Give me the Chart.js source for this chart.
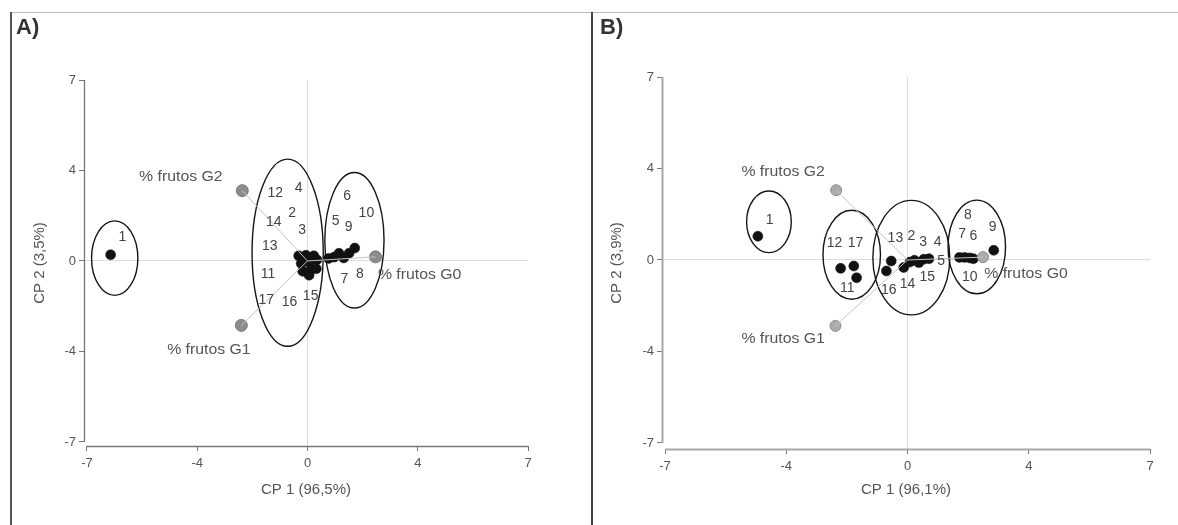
<!DOCTYPE html>
<html>
<head>
<meta charset="utf-8">
<script src="https://cdn.jsdelivr.net/npm/chart.js@4.4.1/dist/chart.umd.min.js"></script>
<style>
  html, body { margin: 0; padding: 0; background: #fff; }
  body { width: 1178px; height: 525px; position: relative; overflow: hidden; font-family: Arial, "Liberation Sans", sans-serif; }
  canvas { position: absolute; top: 0; }
  #cA { left: 0; }
  #cB { left: 590px; }
  .frame { position: absolute; z-index: 5; pointer-events: none; }
  .panel { position: absolute; z-index: 6; font: bold 22px Arial, "Liberation Sans", sans-serif; color: #333; }
</style>
</head>
<body>
<canvas id="cA" width="590" height="525"></canvas>
<canvas id="cB" width="588" height="525"></canvas>
<div class="frame" style="left:10px;top:12px;width:1168px;height:1px;background:#bdbdbd"></div>
<div class="frame" style="left:10px;top:12px;width:2px;height:513px;background:#555"></div>
<div class="frame" style="left:591px;top:12px;width:2px;height:513px;background:#444"></div>
<div class="panel" style="left:16px;top:14px">A)</div>
<div class="panel" style="left:600px;top:14px">B)</div>
<script>
// ---------- DATA ----------
const tickValues = [-7, -3.5, 0, 3.5, 7];
const tickLabels = ['-7', '-4', '0', '4', '7'];

// Panel A: observation scores
const idsA  = ['1','2','3','4','11','12','13','14','15','16','17','5','6','7','8','9','10'];
const pcA_x = [-6.25, -0.28, -0.05, 0.20, 0.30, -0.20, 0.05, -0.15, 0.10, 0.28, 0.05, 0.67, 0.85, 1.00, 1.15, 1.32, 1.50];
const pcA_y = [0.24, 0.20, 0.22, 0.20, 0.05, -0.10, -0.05, -0.40, -0.35, -0.30, -0.55, 0.10, 0.15, 0.30, 0.12, 0.30, 0.50];
// Panel A: observation label positions
const labA   = ['1','12','4','2','14','3','13','11','17','16','15','6','10','5','9','7','8'];
const labA_x = [-5.88, -1.02, -0.28, -0.49, -1.07, -0.17, -1.20, -1.25, -1.31, -0.57, 0.10, 1.26, 1.87, 0.89, 1.31, 1.17, 1.66];
const labA_y = [0.93, 2.61, 2.83, 1.87, 1.51, 1.19, 0.57, -0.52, -1.50, -1.59, -1.36, 2.52, 1.87, 1.55, 1.32, -0.71, -0.49];
// Panel A: variables
const varNames = ['% frutos G0', '% frutos G1', '% frutos G2'];
const varA_x = [2.16, -2.10, -2.07];
const varA_y = [0.16, -2.49, 2.72];
const varLabA_x = [3.56, -3.13, -4.02];
const varLabA_y = [-0.56, -3.46, 3.26];
// Panel A: group ellipses (centre, semi-axes)
const ellA_cx = [-6.12, -0.63, 1.49];
const ellA_cy = [0.11, 0.32, 0.80];
const ellA_rx = [0.735, 1.13, 0.94];
const ellA_ry = [1.44, 3.62, 2.62];

// Panel B: observation scores
const idsB  = ['1','11','12','17','16','13','14','2','3','15','4','5','7','6','10','8','9'];
const pcB_x = [-4.32, -1.93, -1.55, -1.47, -0.61, -0.47, -0.11, 0.07, 0.20, 0.33, 0.47, 0.62, 1.50, 1.65, 1.80, 1.90, 2.49];
const pcB_y = [0.91, -0.32, -0.23, -0.68, -0.42, -0.04, -0.29, -0.08, -0.01, -0.10, 0.03, 0.05, 0.10, 0.10, 0.08, 0.05, 0.37];
// Panel B: observation label positions
const labB   = ['1','12','17','11','13','2','3','4','5','16','14','15','8','7','6','9','10'];
const labB_x = [-3.98, -2.11, -1.50, -1.74, -0.35, 0.11, 0.45, 0.87, 0.97, -0.54, 0.00, 0.57, 1.74, 1.58, 1.90, 2.46, 1.80];
const labB_y = [1.53, 0.64, 0.64, -1.09, 0.84, 0.93, 0.67, 0.70, -0.03, -1.15, -0.92, -0.64, 1.73, 0.97, 0.93, 1.27, -0.64];
// Panel B: variables
const varB_x = [2.18, -2.08, -2.06];
const varB_y = [0.11, -2.52, 2.67];
const varLabB_x = [3.42, -3.59, -3.59];
const varLabB_y = [-0.54, -3.02, 3.35];
// Panel B: group ellipses
const ellB_cx = [-4.00, -1.61, 0.11, 2.00];
const ellB_cy = [1.46, 0.20, 0.09, 0.50];
const ellB_rx = [0.645, 0.83, 1.11, 0.83];
const ellB_ry = [1.18, 1.70, 2.19, 1.79];

// ---------- DRAWING ----------
const FONT = 'Arial, "Liberation Sans", sans-serif';

const decorPlugin = {
  id: 'decor',
  beforeDatasetsDraw(chart, args, opts) {
    const {ctx, scales: {x, y}, chartArea} = chart;
    ctx.save();
    ctx.strokeStyle = opts.axisColor;
    ctx.lineWidth = opts.axisWidth;
    ctx.beginPath();
    ctx.moveTo(chartArea.left + 0.5, y.getPixelForValue(7));
    ctx.lineTo(chartArea.left + 0.5, y.getPixelForValue(-7));
    ctx.moveTo(x.getPixelForValue(-7), chartArea.bottom + 0.5);
    ctx.lineTo(x.getPixelForValue(7), chartArea.bottom + 0.5);
    ctx.stroke();
    ctx.strokeStyle = '#161616';
    ctx.lineWidth = 1.4;
    const e = opts.ellipses;
    for (let i = 0; i < e.cx.length; i++) {
      const px = x.getPixelForValue(e.cx[i]);
      const py = y.getPixelForValue(e.cy[i]);
      const rx = Math.abs(x.getPixelForValue(e.cx[i] + e.rx[i]) - px);
      const ry = Math.abs(y.getPixelForValue(e.cy[i] + e.ry[i]) - py);
      ctx.beginPath();
      ctx.ellipse(px, py, rx, ry, 0, 0, Math.PI * 2);
      ctx.stroke();
    }
    ctx.restore();
  },
  afterDatasetsDraw(chart, args, opts) {
    const {ctx, scales: {x, y}} = chart;
    ctx.save();
    ctx.textAlign = 'center';
    ctx.textBaseline = 'middle';
    ctx.font = '14px ' + FONT;
    ctx.fillStyle = '#444';
    const L = opts.labels;
    for (let i = 0; i < L.text.length; i++) {
      ctx.fillText(L.text[i], x.getPixelForValue(L.x[i]), y.getPixelForValue(L.y[i]));
    }
    ctx.fillStyle = '#555';
    ctx.font = '14px ' + FONT;
    const V = opts.varLabels;
    for (let i = 0; i < V.text.length; i++) {
      ctx.save();
      ctx.translate(x.getPixelForValue(V.x[i]), y.getPixelForValue(V.y[i]));
      ctx.scale(1.13, 1);
      ctx.fillText(V.text[i], 0, 0);
      ctx.restore();
    }
    ctx.restore();
  }
};

function makeChart(id, g, d) {
  const pts = d.px.map((v, i) => ({x: v, y: d.py[i]}));
  const vars = d.vx.map((v, i) => ({x: v, y: d.vy[i]}));
  const datasets = [];
  vars.forEach(p => datasets.push({
    type: 'scatter', data: [{x: 0, y: 0}, p], showLine: true,
    borderColor: '#c4c4c4', borderWidth: 1, pointRadius: 0
  }));
  datasets.push({
    type: 'scatter', data: vars, pointRadius: g.varRadius,
    backgroundColor: g.varFill, borderColor: g.varBorder, borderWidth: 1
  });
  datasets.push({
    type: 'scatter', data: pts, pointRadius: 5,
    backgroundColor: '#111', borderColor: '#111', borderWidth: 0.5
  });
  const scaleCommon = (isX) => ({
    type: 'linear',
    min: isX ? g.xmin : g.ymin,
    max: 7,
    afterBuildTicks: s => { s.ticks = tickValues.map(v => ({value: v})); },
    afterFit: s => { if (isX) s.height = g.xAxisH; else s.width = g.yAxisW; },
    border: {display: false},
    grid: {
      color: c => (c.tick && c.tick.value === 0) ? '#dcdcdc' : 'rgba(0,0,0,0)',
      tickColor: '#777', tickLength: 5, lineWidth: 1
    },
    ticks: {
      color: '#555', font: {family: FONT, size: 13}, padding: isX ? 5 : 3,
      maxRotation: 0, autoSkip: false,
      callback: v => { const k = tickValues.indexOf(v); return k >= 0 ? tickLabels[k] : ''; }
    },
    title: {
      display: true, text: isX ? g.xTitle : g.yTitle, color: '#555',
      font: {family: FONT, size: 15},
      padding: isX ? {top: 0, bottom: g.xTitlePad} : {top: g.yTitlePad, bottom: 0}
    }
  });
  return new Chart(document.getElementById(id), {
    type: 'scatter',
    data: {datasets},
    options: {
      responsive: false, animation: false, devicePixelRatio: 1,
      layout: {padding: {left: 0, top: g.top, right: g.right, bottom: 0}},
      plugins: {
        legend: {display: false}, tooltip: {enabled: false},
        decor: {
          axisColor: g.axisColor, axisWidth: g.axisWidth,
          ellipses: {cx: d.ecx, cy: d.ecy, rx: d.erx, ry: d.ery},
          labels: {text: d.lab, x: d.lx, y: d.ly},
          varLabels: {text: varNames, x: d.vlx, y: d.vly}
        }
      },
      scales: {x: scaleCommon(true), y: scaleCommon(false)}
    },
    plugins: [decorPlugin]
  });
}

makeChart('cA', {
  xmin: -7.095, ymin: -7.155, top: 80, right: 62, yAxisW: 84, xAxisH: 79,
  xTitle: 'CP 1 (96,5%)', yTitle: 'CP 2 (3,5%)', xTitlePad: 26, yTitlePad: 31,
  axisColor: '#777', axisWidth: 1.3, varRadius: 6, varFill: '#8c8c8c', varBorder: '#7a7a7a'
}, {
  px: pcA_x, py: pcA_y, lab: labA, lx: labA_x, ly: labA_y,
  vx: varA_x, vy: varA_y, vlx: varLabA_x, vly: varLabA_y,
  ecx: ellA_cx, ecy: ellA_cy, erx: ellA_rx, ery: ellA_ry
});

makeChart('cB', {
  xmin: -7.087, ymin: -7.23, top: 77, right: 28, yAxisW: 72, xAxisH: 76,
  xTitle: 'CP 1 (96,1%)', yTitle: 'CP 2 (3,9%)', xTitlePad: 26, yTitlePad: 18,
  axisColor: '#a8a8a8', axisWidth: 2, varRadius: 5.5, varFill: '#ababab', varBorder: '#8e8e8e'
}, {
  px: pcB_x, py: pcB_y, lab: labB, lx: labB_x, ly: labB_y,
  vx: varB_x, vy: varB_y, vlx: varLabB_x, vly: varLabB_y,
  ecx: ellB_cx, ecy: ellB_cy, erx: ellB_rx, ery: ellB_ry
});
</script>
</body>
</html>
